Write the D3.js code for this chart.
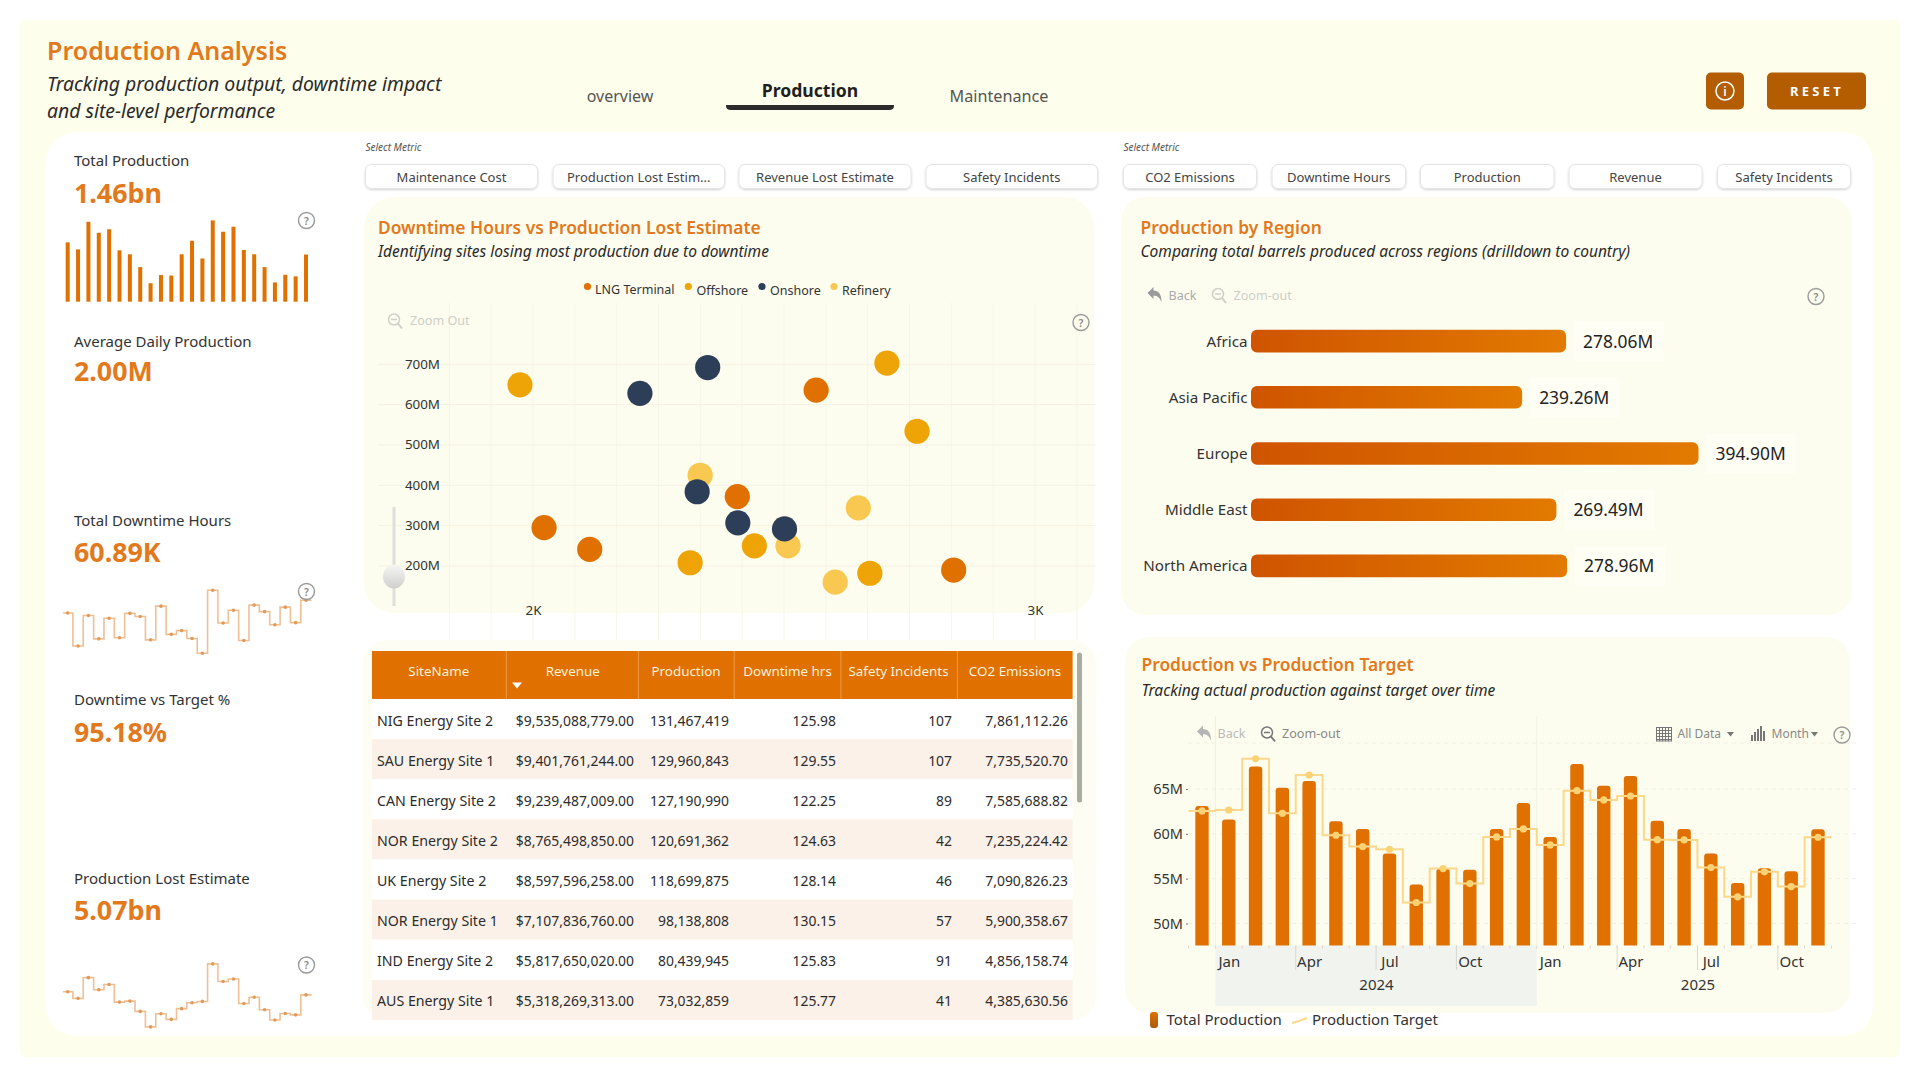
<!DOCTYPE html>
<html>
<head>
<meta charset="utf-8">
<title>Production Analysis</title>
<script src="https://cdn.jsdelivr.net/npm/d3@7"></script>
<style>
  html, body { margin: 0; padding: 0; background: #fff; }
  svg { display: block; }
  text { font-family: "Noto Sans", "Open Sans", sans-serif; }
</style>
</head>
<body>
<svg id="board" width="1920" height="1080"></svg>
<script>
// ---- data ----
const monthLabels = ["", "Jan", "", "", "Apr", "", "", "Jul", "", "", "Oct", "", "", "Jan", "", "", "Apr", "", "", "Jul", "", "", "Oct", ""];
const monthlyProduction = [63.1, 61.6, 67.5, 65.15, 65.9, 61.4, 60.55, 57.8, 54.35, 56.1, 56.0, 60.55, 63.45, 59.65, 67.8, 65.37, 66.45, 61.47, 60.55, 57.8, 54.53, 56.17, 55.83, 60.5];
const monthlyTarget = [62.55, 62.66, 68.37, 62.29, 66.56, 59.84, 58.58, 58.28, 52.34, 56.12, 54.45, 59.65, 60.55, 58.76, 64.81, 63.78, 64.22, 59.35, 59.32, 56.24, 52.97, 55.76, 54.12, 59.62];
const monthlyDowntime = [2677, 2197, 2642, 2302, 2602, 2317, 2672, 2627, 2287, 2777, 2367, 2422, 2307, 2092, 3007, 2532, 2717, 2277, 2792, 2697, 2507, 2762, 2537, 2862];
const monthlyLost = [233.4, 218.2, 266.2, 238.2, 250.2, 209.4, 211.8, 187.8, 151.8, 182.2, 169.4, 194.2, 207.8, 211, 298.2, 257.4, 263, 206.2, 220.6, 191.8, 167.8, 183, 179.8, 226.2];

const regions = ["Africa", "Asia Pacific", "Europe", "Middle East", "North America"];
const regionProduction = [278.06, 239.26, 394.90, 269.49, 278.96];

const siteTypes = ["LNG Terminal", "Offshore", "Onshore", "Refinery"];
const siteTypeColors = ["#e07000", "#eea406", "#2c3e58", "#f8c850"];
const lngSites = [[2564, 636], [2407, 372], [2022, 295], [2113, 241], [2838, 190]];
const offshoreSites = [[1974, 649], [2705, 703], [2765, 534], [2313, 208], [2441, 250], [2671, 182]];
const onshoreSites = [[2348, 692], [2213, 628], [2327, 384], [2408, 307], [2501, 292]];
const refinerySites = [[2333, 425], [2648, 344], [2508, 250], [2602, 160]];

const tableHeaders = ["SiteName", "Revenue", "Production", "Downtime hrs", "Safety Incidents", "CO2 Emissions"];
const tableRows = [
  ["NIG Energy Site 2", "$9,535,088,779.00", "131,467,419", "125.98", "107", "7,861,112.26"],
  ["SAU Energy Site 1", "$9,401,761,244.00", "129,960,843", "129.55", "107", "7,735,520.70"],
  ["CAN Energy Site 2", "$9,239,487,009.00", "127,190,990", "122.25", "89", "7,585,688.82"],
  ["NOR Energy Site 2", "$8,765,498,850.00", "120,691,362", "124.63", "42", "7,235,224.42"],
  ["UK Energy Site 2", "$8,597,596,258.00", "118,699,875", "128.14", "46", "7,090,826.23"],
  ["NOR Energy Site 1", "$7,107,836,760.00", "98,138,808", "130.15", "57", "5,900,358.67"],
  ["IND Energy Site 2", "$5,817,650,020.00", "80,439,945", "125.83", "91", "4,856,158.74"],
  ["AUS Energy Site 1", "$5,318,269,313.00", "73,032,859", "125.77", "41", "4,385,630.56"]
];

const leftMetrics = ["Maintenance Cost", "Production Lost Estim...", "Revenue Lost Estimate", "Safety Incidents"];
const rightMetrics = ["CO2 Emissions", "Downtime Hours", "Production", "Revenue", "Safety Incidents"];

// ---- palette ----
const ORANGE = "#e07000", TITLE = "#e2791c", CREAM = "#fdfeeb", PANEL = "#fdfdef", INK = "#2e2e2e";

const svg = d3.select("#board");
const defs = svg.append("defs");

const barGrad = defs.append("linearGradient").attr("id", "regionFill");
barGrad.append("stop").attr("offset", "0%").attr("stop-color", "#cf5400");
barGrad.append("stop").attr("offset", "100%").attr("stop-color", "#e27a00");

const swatchGrad = defs.append("linearGradient").attr("id", "swatchFill").attr("x2", 0).attr("y2", 1);
swatchGrad.append("stop").attr("offset", "0%").attr("stop-color", "#e07000");
swatchGrad.append("stop").attr("offset", "100%").attr("stop-color", "#a85a10");

const knobGrad = defs.append("linearGradient").attr("id", "knobFill").attr("x2", 0).attr("y2", 1);
knobGrad.append("stop").attr("offset", "0%").attr("stop-color", "#f6f6f4");
knobGrad.append("stop").attr("offset", "100%").attr("stop-color", "#cfcfcd");

const btnShadow = defs.append("filter").attr("id", "btnShadow").attr("x", "-5%").attr("y", "-20%").attr("width", "110%").attr("height", "150%");
btnShadow.append("feDropShadow").attr("dx", 0).attr("dy", 1).attr("stdDeviation", 1).attr("flood-color", "#000").attr("flood-opacity", 0.18);

// ---- helpers ----
function label(parent, x, y, str, o = {}) {
  return parent.append("text")
    .attr("x", x).attr("y", y)
    .attr("dominant-baseline", "central")
    .attr("text-anchor", o.anchor || "start")
    .attr("font-size", o.size || 14)
    .attr("font-weight", o.weight || 400)
    .attr("font-style", o.italic ? "italic" : "normal")
    .attr("letter-spacing", o.spacing || null)
    .attr("fill", o.fill || INK)
    .text(str);
}
function card(x0, y0, x1, y1, r, fill) {
  return svg.append("rect").attr("x", x0).attr("y", y0).attr("width", x1 - x0).attr("height", y1 - y0).attr("rx", r).attr("fill", fill);
}
function helpIcon(cx, cy) {
  const g = svg.append("g");
  g.append("circle").attr("cx", cx).attr("cy", cy).attr("r", 8).attr("fill", "none").attr("stroke", "#9a9a9a").attr("stroke-width", 1.4);
  label(g, cx, cy, "?", { anchor: "middle", size: 10.5, fill: "#8a8a8a", weight: 600 });
}
function zoomIcon(cx, cy, color) {
  const g = svg.append("g").attr("fill", "none").attr("stroke", color).attr("stroke-width", 1.5);
  g.append("circle").attr("cx", cx - 1).attr("cy", cy - 1).attr("r", 5.5);
  g.append("line").attr("x1", cx + 3).attr("y1", cy + 3).attr("x2", cx + 7).attr("y2", cy + 8).attr("stroke-width", 2);
  g.append("line").attr("x1", cx - 4).attr("y1", cy - 1).attr("x2", cx + 2).attr("y2", cy - 1);
}
function backIcon(cx, cy, color) {
  svg.append("path").attr("fill", color)
    .attr("transform", `translate(${cx},${cy})`)
    .attr("d", "M-7,-2 L-1,-8 L-1,-4.5 C4,-4.5 7,-1 7,7 C5,2.5 3,0.8 -1,0.8 L-1,4 Z");
}
function roundedTop(x, y, w, h, r) {
  return `M${x},${y + h} V${y + r} Q${x},${y} ${x + r},${y} H${x + w - r} Q${x + w},${y} ${x + w},${y + r} V${y + h} Z`;
}

// ---- page frame ----
card(20, 20, 1900, 1057, 6, CREAM);
card(46, 132, 1873, 1036, 30, "#fff");

label(svg, 47, 50, "Production Analysis", { size: 25, weight: 600, fill: TITLE });
label(svg, 47, 83.5, "Tracking production output, downtime impact", { size: 19.4, italic: true, fill: "#2a2a2a" });
label(svg, 47, 110, "and site-level performance", { size: 19.4, italic: true, fill: "#2a2a2a" });

// ---- navigation ----
label(svg, 620, 95.5, "overview", { anchor: "middle", size: 16, fill: "#555" });
label(svg, 810, 90, "Production", { anchor: "middle", size: 17.6, weight: 700, fill: "#1f1f1f" });
label(svg, 999, 95.5, "Maintenance", { anchor: "middle", size: 16.2, fill: "#555" });
svg.append("path").attr("fill", "#2b2b2b").attr("d", "M726,105 H894 V106 Q894,110 889,110 H731 Q726,110 726,106 Z");

card(1706, 72.5, 1744, 109.5, 5, "#b35c00");
svg.append("circle").attr("cx", 1725).attr("cy", 91).attr("r", 9).attr("fill", "none").attr("stroke", "#fff").attr("stroke-width", 1.5);
label(svg, 1725, 91, "i", { anchor: "middle", size: 12, fill: "#fff", weight: 600 });
card(1767, 72.5, 1866, 109.5, 5, "#b35c00");
label(svg, 1817, 90.5, "RESET", { anchor: "middle", size: 13, weight: 700, fill: "#fff", spacing: "3.2px" });

// ---- KPI column ----
const kpis = [
  { name: "Total Production", value: "1.46bn", ly: 159.5, vy: 192 },
  { name: "Average Daily Production", value: "2.00M", ly: 340.5, vy: 370 },
  { name: "Total Downtime Hours", value: "60.89K", ly: 519.5, vy: 551 },
  { name: "Downtime vs Target %", value: "95.18%", ly: 698.5, vy: 731 },
  { name: "Production Lost Estimate", value: "5.07bn", ly: 877.5, vy: 909.5 }
];
kpis.forEach(k => {
  label(svg, 74, k.ly, k.name, { size: 15, fill: "#333" });
  label(svg, 74, k.vy, k.value, { size: 26.8, weight: 700, fill: TITLE });
});

const sparkX = d3.scaleLinear().domain([0, 23]).range([67.7, 306]);
const sparkBarY = d3.scaleLinear().domain([50.4, 67.8]).range([301.7, 220.4]);
svg.append("g").selectAll("rect").data(monthlyProduction).join("rect")
  .attr("x", (d, i) => sparkX(i) - 2).attr("width", 4)
  .attr("y", d => sparkBarY(d)).attr("height", d => sparkBarY.range()[0] - sparkBarY(d))
  .attr("fill", ORANGE);

// Step sparklines carry a short run-out on both ends
function stepSpark(values, yRange) {
  const y = d3.scaleLinear().domain(d3.extent(values)).range(yRange);
  const padded = [[-0.45, values[0]], ...values.map((v, i) => [i, v]), [23.55, values[23]]];
  const line = d3.line().x(d => sparkX(d[0])).y(d => y(d[1])).curve(d3.curveStep);
  const g = svg.append("g");
  g.append("path").attr("d", line(padded)).attr("fill", "none").attr("stroke", "#efc096").attr("stroke-width", 1.6);
  g.selectAll("circle").data(values).join("circle")
    .attr("cx", (d, i) => sparkX(i)).attr("cy", d => y(d)).attr("r", 1.8).attr("fill", "#e39a55");
}
stepSpark(monthlyDowntime, [653.3, 590.3]);
stepSpark(monthlyLost, [1026.9, 963.9]);
helpIcon(306.5, 220.5);
helpIcon(306.5, 591.5);
helpIcon(306.5, 965);

// ---- metric selectors ----
function slicer(x0, items, boxes) {
  label(svg, x0, 147, "Select Metric", { size: 10, italic: true, fill: "#555" });
  items.forEach((t, i) => {
    const [a, b] = boxes[i];
    svg.append("rect").attr("x", a).attr("y", 164.5).attr("width", b - a).attr("height", 24).attr("rx", 6)
      .attr("fill", "#fff").attr("stroke", "#e4e4e4").attr("filter", "url(#btnShadow)");
    label(svg, (a + b) / 2, 177, t, { anchor: "middle", size: 13, fill: "#444" });
  });
}
slicer(365.5, leftMetrics, [[365.5, 537.5], [553, 724.5], [739, 911], [926, 1097.5]]);
slicer(1123.5, rightMetrics, [[1123.5, 1256.5], [1272, 1405.5], [1420.5, 1554], [1569, 1702], [1717.5, 1850.5]]);

// ---- scatter: downtime hours vs production lost ----
card(364, 197, 1094, 613, 30, PANEL);
label(svg, 378, 226.5, "Downtime Hours vs Production Lost Estimate", { size: 17.4, weight: 600, fill: TITLE });
label(svg, 378, 251, "Identifying sites losing most production due to downtime", { size: 15.5, italic: true, fill: "#2a2a2a" });

const scX = d3.scaleLinear().domain([2000, 3000]).range([533, 1035]);
const scY = d3.scaleLinear().domain([200, 700]).range([566, 364.3]);

const vGrid = d3.range(1833.4, 3100, 1000 / 12);
svg.append("g").selectAll("line").data(vGrid).join("line")
  .attr("x1", d => scX(d)).attr("x2", d => scX(d)).attr("y1", 303).attr("y2", 640)
  .attr("stroke", "#f7f6e6").attr("stroke-width", 1);
svg.append("g").selectAll("line").data([200, 300, 400, 500, 600, 700]).join("line")
  .attr("x1", 378).attr("x2", 1096).attr("y1", d => scY(d)).attr("y2", d => scY(d))
  .attr("stroke", "#f6f1e0").attr("stroke-width", 1);

const scYAxis = svg.append("g").attr("transform", "translate(443,-0.5)")
  .call(d3.axisLeft(scY).tickValues([200, 300, 400, 500, 600, 700]).tickSize(0).tickFormat(d => d + "M"));
scYAxis.select(".domain").remove();
scYAxis.selectAll("text").attr("font-size", 13.4).attr("fill", "#333").attr("font-family", null);

const scXAxis = svg.append("g").attr("transform", "translate(0,602)")
  .call(d3.axisBottom(scX).tickValues([2000, 3000]).tickSize(0).tickFormat(d => (d / 1000) + "K"));
scXAxis.select(".domain").remove();
scXAxis.selectAll("text").attr("font-size", 13.4).attr("fill", "#333").attr("font-family", null);

[[refinerySites, 3], [offshoreSites, 1], [lngSites, 0], [onshoreSites, 2]].forEach(([series, k]) => {
  svg.append("g").selectAll("circle").data(series).join("circle")
    .attr("cx", d => scX(d[0])).attr("cy", d => scY(d[1])).attr("r", 12.6).attr("fill", siteTypeColors[k]);
});

const legendDots = [587.5, 688.3, 762, 834];
const legendTextX = [595, 696.5, 770, 842];
const legendTextY = [289, 290, 290, 290];
siteTypes.forEach((t, i) => {
  svg.append("circle").attr("cx", legendDots[i]).attr("cy", 286.5).attr("r", 3.6).attr("fill", siteTypeColors[i]);
  label(svg, legendTextX[i], legendTextY[i], t, { size: 12.5, fill: "#333" });
});

zoomIcon(395, 320.5, "#cfcfc8");
label(svg, 410, 320.5, "Zoom Out", { size: 12.6, fill: "#cfcfc8" });
helpIcon(1081, 322.5);

svg.append("line").attr("x1", 394).attr("x2", 394).attr("y1", 507).attr("y2", 606).attr("stroke", "#dedfd8").attr("stroke-width", 3);
svg.append("ellipse").attr("cx", 394).attr("cy", 576.5).attr("rx", 11).attr("ry", 12).attr("fill", "url(#knobFill)");

// ---- region bars ----
card(1121, 197, 1852, 615, 24, PANEL);
label(svg, 1140.5, 226.5, "Production by Region", { size: 17.4, weight: 600, fill: TITLE });
label(svg, 1140.5, 251, "Comparing total barrels produced across regions (drilldown to country)", { size: 15.5, italic: true, fill: "#2a2a2a" });

backIcon(1154.5, 295, "#9a9a9a");
label(svg, 1168.5, 295, "Back", { size: 12.6, fill: "#aaa" });
zoomIcon(1219, 295, "#cfcfc8");
label(svg, 1233.5, 295, "Zoom-out", { size: 12.6, fill: "#cfcfc8" });
helpIcon(1816, 296.5);

const regX = d3.scaleLinear().domain([0, 394.9]).range([1251, 1698.5]);
const regY = d3.scaleBand().domain(regions).range([313, 594]).paddingInner(0.6).paddingOuter(0.3);
const regionBand = 22.6;
const regCenter = d => regY(d) + regY.bandwidth() / 2;

svg.append("g").selectAll("rect").data(regions).join("rect")
  .attr("x", (d, i) => regX(regionProduction[i]) + 8).attr("y", d => regCenter(d) - 20)
  .attr("width", 90).attr("height", 40).attr("fill", "#fffffa").attr("opacity", 0.55);
svg.append("g").selectAll("rect").data(regions).join("rect")
  .attr("x", regX(0)).attr("y", d => regCenter(d) - regionBand / 2)
  .attr("width", (d, i) => regX(regionProduction[i]) - regX(0)).attr("height", regionBand)
  .attr("rx", 6).attr("fill", "url(#regionFill)");
regions.forEach((r, i) => {
  label(svg, 1247.5, regCenter(r) - 0.5, r, { anchor: "end", size: 15.2, fill: "#333" });
  label(svg, regX(regionProduction[i]) + 17, regCenter(r) - 0.5, regionProduction[i].toFixed(2) + "M", { size: 17.4, fill: "#222" });
});

// ---- site table ----
card(363, 640, 1096, 1020, 24, "#fdfdf3");
const colEdges = [372, 506.3, 638.4, 734.2, 840.9, 957.4, 1072.6];
const headerCenters = [438.8, 572.8, 686, 787.6, 898.5, 1015];
const cellRight = [377, 634, 729, 836, 952, 1068];
const rowY = d3.scaleLinear().domain([0, 8]).range([699, 1020]);

svg.append("rect").attr("x", colEdges[0]).attr("y", 651).attr("width", colEdges[6] - colEdges[0]).attr("height", 48).attr("fill", ORANGE);
svg.append("g").selectAll("line").data(colEdges.slice(1, 6)).join("line")
  .attr("x1", d => d).attr("x2", d => d).attr("y1", 651).attr("y2", 699).attr("stroke", "#eb9a48").attr("stroke-width", 1);
tableHeaders.forEach((h, i) => label(svg, headerCenters[i], 670.5, h, { anchor: "middle", size: 13.4, fill: "#fdf2dc" }));
svg.append("path").attr("fill", "#fff").attr("d", "M512,682.5 H522 L517,688.5 Z");

tableRows.forEach((row, r) => {
  svg.append("rect").attr("x", colEdges[0]).attr("y", rowY(r)).attr("width", colEdges[6] - colEdges[0]).attr("height", rowY(r + 1) - rowY(r))
    .attr("fill", r % 2 ? "#fbf1e8" : "#fff");
  row.forEach((cell, c) => {
    label(svg, cellRight[c], (rowY(r) + rowY(r + 1)) / 2 + 1, cell, { anchor: c ? "end" : "start", size: c ? 13.9 : 14.2, fill: "#2c2c2c" });
  });
});
card(1077, 652.5, 1082, 802.5, 2.5, "#a9aca0");

// ---- production vs target ----
card(1125, 637, 1850, 1013, 24, PANEL);
label(svg, 1141.5, 663.5, "Production vs Production Target", { size: 17.4, weight: 600, fill: TITLE });
label(svg, 1141.5, 689.5, "Tracking actual production against target over time", { size: 15.5, italic: true, fill: "#2a2a2a" });

const monthX = d3.scaleLinear().domain([0, 23]).range([1202, 1818]);
const prodY = d3.scaleLinear().domain([50, 65]).range([923.5, 789]);
const baseline = 945.5;
const barW = 13.4;

// year band and axis furniture
svg.append("rect").attr("x", monthX(0.5)).attr("y", baseline).attr("width", monthX(12.5) - monthX(0.5)).attr("height", 60.5).attr("fill", "#f1f3ee");
svg.append("g").selectAll("line").data([50, 55, 60, 65]).join("line")
  .attr("x1", 1188).attr("x2", 1856).attr("y1", d => prodY(d)).attr("y2", d => prodY(d))
  .attr("stroke", "#f1f0e3").attr("stroke-width", 1).attr("stroke-dasharray", "4 4");
svg.append("line").attr("x1", 1188).attr("x2", 1856).attr("y1", 743).attr("y2", 743)
  .attr("stroke", "#f1f0e3").attr("stroke-dasharray", "4 4");
svg.append("g").selectAll("line").data([0.5, 12.5]).join("line")
  .attr("x1", d => monthX(d)).attr("x2", d => monthX(d)).attr("y1", 716).attr("y2", baseline)
  .attr("stroke", "#f1f0e3");
svg.append("g").selectAll("line").data([3.5, 6.5, 9.5, 15.5, 18.5, 21.5]).join("line")
  .attr("x1", d => monthX(d)).attr("x2", d => monthX(d)).attr("y1", baseline).attr("y2", 970)
  .attr("stroke", "#d9d9d2");
svg.append("g").selectAll("line").data(d3.range(-0.5, 24, 1)).join("line")
  .attr("x1", d => monthX(d)).attr("x2", d => monthX(d)).attr("y1", baseline).attr("y2", baseline + 3)
  .attr("stroke", "#d9d9d2");

svg.append("g").selectAll("path").data(monthlyProduction).join("path")
  .attr("d", (d, i) => roundedTop(monthX(i) - barW / 2, prodY(d), barW, baseline - prodY(d), 3))
  .attr("fill", ORANGE);

const targetPts = [[-0.5, monthlyTarget[0]], ...monthlyTarget.map((v, i) => [i, v]), [23.5, monthlyTarget[23]]];
const targetLine = d3.line().x(d => monthX(d[0])).y(d => prodY(d[1])).curve(d3.curveStep);
svg.append("path").attr("d", targetLine(targetPts)).attr("fill", "none").attr("stroke", "#fcd88c").attr("stroke-width", 2);
svg.append("g").selectAll("circle").data(monthlyTarget).join("circle")
  .attr("cx", (d, i) => monthX(i)).attr("cy", d => prodY(d)).attr("r", 3.6).attr("fill", "#fbd274");

const prodAxis = svg.append("g").attr("transform", "translate(1188,0)")
  .call(d3.axisLeft(prodY).tickValues([50, 55, 60, 65]).tickSize(2).tickPadding(3).tickFormat(d => d + "M"));
prodAxis.select(".domain").remove();
prodAxis.selectAll("line").attr("stroke", "#777");
prodAxis.selectAll("text").attr("font-size", 14.5).attr("fill", "#333").attr("font-family", null);

monthLabels.forEach((m, i) => { if (m) label(svg, monthX(i) + 0.5, 960.5, m, { anchor: "middle", size: 15, fill: "#333" }); });
label(svg, 1376.5, 983.5, "2024", { anchor: "middle", size: 15, fill: "#333" });
label(svg, 1698, 983.5, "2025", { anchor: "middle", size: 15, fill: "#333" });

backIcon(1204, 733.5, "#b5b5b5");
label(svg, 1217.5, 733.5, "Back", { size: 12.6, fill: "#bbb" });
zoomIcon(1268, 733.5, "#777");
label(svg, 1282, 733.5, "Zoom-out", { size: 12.6, fill: "#888" });

// calendar glyph
const cal = svg.append("g").attr("fill", "none").attr("stroke", "#777");
cal.append("rect").attr("x", 1656.5).attr("y", 727.5).attr("width", 15).attr("height", 13.5);
d3.range(4).forEach(k => {
  cal.append("line").attr("x1", 1656.5).attr("x2", 1671.5).attr("y1", 730.5 + k * 3).attr("y2", 730.5 + k * 3);
  cal.append("line").attr("x1", 1659.5 + k * 3).attr("x2", 1659.5 + k * 3).attr("y1", 727.5).attr("y2", 741);
});
label(svg, 1677.5, 733.5, "All Data", { size: 12, fill: "#888" });
svg.append("path").attr("fill", "#777").attr("d", "M1727,732 H1734 L1730.5,736.5 Z");

// month-granularity glyph
const glyphHeights = [6, 9, 12, 15, 10];
svg.append("g").selectAll("rect").data(glyphHeights).join("rect")
  .attr("x", (d, i) => 1751 + i * 3).attr("y", d => 741 - d).attr("width", 2).attr("height", d => d).attr("fill", "#777");
label(svg, 1771.5, 733.5, "Month", { size: 12, fill: "#888" });
svg.append("path").attr("fill", "#777").attr("d", "M1811,732 H1818 L1814.5,736.5 Z");
helpIcon(1842, 735);

card(1150, 1012, 1158, 1028, 3, "url(#swatchFill)");
label(svg, 1166.5, 1019, "Total Production", { size: 15, fill: "#333" });
svg.append("path").attr("d", "M1292,1023 L1299,1021 L1307,1018").attr("fill", "none").attr("stroke", "#fcd88c").attr("stroke-width", 2);
label(svg, 1312, 1019, "Production Target", { size: 15, fill: "#333" });
</script>
</body>
</html>
